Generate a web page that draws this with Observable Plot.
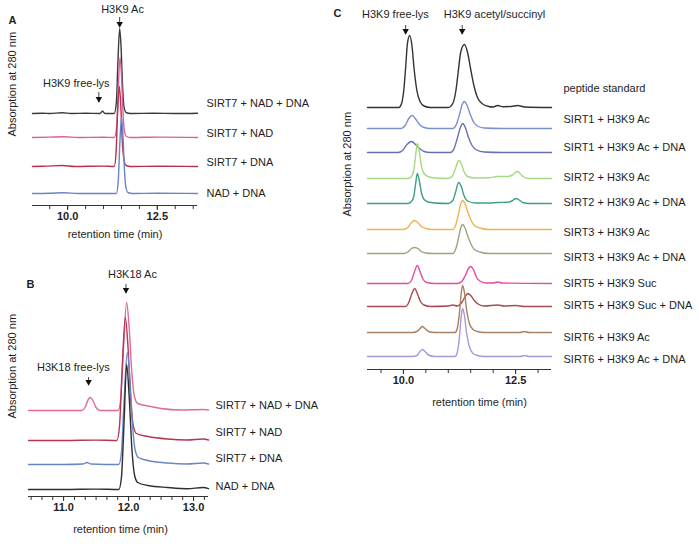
<!DOCTYPE html>
<html><head><meta charset="utf-8">
<script src="https://cdn.jsdelivr.net/npm/d3@7"></script>
<script src="https://cdn.jsdelivr.net/npm/@observablehq/plot@0.6"></script>
<style>
body{margin:0;background:#fff}
#fig{position:relative;width:699px;height:547px;background:#fff;overflow:hidden}
#fig svg{position:absolute;max-width:none}
</style>
</head><body><div id="fig"></div>
<script>
// ---------- Panel A ----------
const seriesA = ["SIRT7 + NAD + DNA", "SIRT7 + NAD", "SIRT7 + DNA", "NAD + DNA"];
const offsetsA = [80, 56, 27, 0];
const labelLevelA = [90, 60, 31, 0];
const colorsA = ["#3a3a3a", "#d8609c", "#b8304c", "#6a84c8"];
const tracesA = [
  [[9.02,0],[9.3,0.3],[9.5,0],[9.85,0.8],[10.1,0],[10.5,0.3],[10.9,0],[10.97,2.2],[11.04,0],[11.3,0],[11.36,12],[11.4,50],[11.45,85],[11.49,66],[11.53,28],[11.57,7],[11.63,1],[11.75,0],[12.4,0.3],[13.0,0],[13.62,0.3]],
  [[9.02,0],[9.5,0.4],[9.9,0.8],[10.3,0],[11.0,0.3],[11.3,0],[11.37,12],[11.41,48],[11.46,80],[11.5,62],[11.54,27],[11.58,7],[11.64,1],[11.75,0],[12.6,0.4],[13.62,0]],
  [[9.02,0],[9.4,0.4],[9.85,1],[10.2,0],[11.0,0.4],[11.3,0],[11.35,14],[11.39,52],[11.44,80],[11.48,62],[11.52,27],[11.57,7],[11.63,1],[11.75,0],[12.5,0.3],[13.62,0]],
  [[9.02,0],[9.5,0.3],[9.9,0.8],[10.3,0],[11.36,0],[11.41,12],[11.45,46],[11.5,76],[11.54,60],[11.58,26],[11.62,7],[11.68,1],[11.8,0],[12.5,0.3],[13.62,0]]
];
const minorTicksA = [9.5, 10, 10.5, 11, 11.5, 12, 12.5, 13, 13.5];
const majorTicksA = [10, 12.5];
const annosA = [
  {text: "H3K9 Ac", tx: 11.53, ty: 184, ax: 11.45, ay1: 176, ay2: 166},
  {text: "H3K9 free-lys", tx: 10.24, ty: 110, ax: 10.87, ay1: 101, ay2: 91}
];

// ---------- Panel B ----------
const seriesB = ["SIRT7 + NAD + DNA", "SIRT7 + NAD", "SIRT7 + DNA", "NAD + DNA"];
const offsetsB = [79, 49, 25, 0];
const labelLevelB = [84, 57, 31, 3];
const colorsB = ["#e06aa0", "#b83450", "#6a86c6", "#2f2f2f"];
const tracesB = [
  [[10.46,0],[11.0,0],[11.28,0],[11.33,3],[11.38,11],[11.41,13],[11.45,10],[11.5,3],[11.56,0],[11.84,0],[11.88,12],[11.92,60],[11.97,108],[12.01,82],[12.05,38],[12.09,14],[12.14,7],[12.3,4.5],[12.5,2],[12.8,0.5],[13.15,1],[13.23,0.5]],
  [[10.46,0],[11.0,0],[11.5,0.4],[11.82,0],[11.86,14],[11.9,70],[11.95,123],[11.99,95],[12.03,45],[12.07,16],[12.12,7],[12.3,4],[12.6,1.5],[12.9,0.5],[13.15,1.5],[13.23,0.5]],
  [[10.46,0],[11.0,0],[11.3,0.5],[11.36,2],[11.42,0.5],[11.85,0],[11.89,12],[11.93,62],[11.98,112],[12.02,86],[12.06,40],[12.1,15],[12.15,7],[12.3,4],[12.6,1.5],[12.9,0.5],[13.15,1.5],[13.23,0.5]],
  [[10.46,0],[11.0,0],[11.5,0.4],[11.85,0],[11.89,12],[11.93,66],[11.97,125],[12.01,92],[12.05,42],[12.09,15],[12.14,7],[12.3,4],[12.6,2],[12.9,0.8],[13.15,2],[13.23,0.8]]
];
const minorTicksB = [10.5, 10.667, 10.833, 11, 11.167, 11.333, 11.5, 11.667, 11.833, 12, 12.167, 12.333, 12.5, 12.667, 12.833, 13, 13.167];
const majorTicksB = [11, 12, 13];
const annosB = [
  {text: "H3K18 Ac", tx: 12.06, ty: 215, ax: 11.96, ay1: 205, ay2: 196},
  {text: "H3K18 free-lys", tx: 11.15, ty: 122, ax: 11.385, ay1: 112, ay2: 104}
];

// ---------- Panel C ----------
const seriesC = ["peptide standard", "SIRT1 + H3K9 Ac", "SIRT1 + H3K9 Ac + DNA", "SIRT2 + H3K9 Ac", "SIRT2 + H3K9 Ac + DNA", "SIRT3 + H3K9 Ac", "SIRT3 + H3K9 Ac + DNA", "SIRT5 + H3K9 Suc", "SIRT5 + H3K9 Suc + DNA", "SIRT6 + H3K9 Ac", "SIRT6 + H3K9 Ac + DNA"];
const offsetsC = [249, 228, 204, 178, 153, 127, 103, 73, 50, 24, 0];
const labelLevelC = [268, 237, 209, 179, 154, 124, 99, 73, 51, 19, -3];
const colorsC = ["#333333", "#7a8ed2", "#6870b4", "#a6d884", "#3ea07c", "#f2b24e", "#a0a27e", "#e84a9c", "#a84a52", "#a8805e", "#a898d6"];
const tracesC = [
  [[9.2,0],[9.6,0],[9.9,0],[9.96,4],[10.01,18],[10.05,40],[10.09,64],[10.14,72],[10.19,62],[10.24,38],[10.3,17],[10.37,6],[10.46,1.5],[10.6,0],[11.0,0],[11.1,4],[11.17,17],[11.22,35],[11.28,56],[11.36,63],[11.43,55],[11.5,38],[11.57,22],[11.65,10],[11.75,4],[11.9,1],[12.0,0.5],[12.1,2],[12.22,0.8],[12.4,1],[12.55,2],[12.7,0.5],[13.3,0]],
  [[9.2,0],[9.95,0],[10.04,3],[10.12,10],[10.2,13],[10.28,9],[10.36,4],[10.46,1],[10.6,0],[11.1,0],[11.18,4],[11.25,14],[11.31,24],[11.36,27],[11.42,23],[11.49,14],[11.57,6],[11.67,2],[11.8,0.5],[12.2,0],[13.3,0]],
  [[9.2,0],[9.88,0],[9.98,2],[10.08,8],[10.18,11],[10.27,8],[10.36,4],[10.46,1],[10.6,0],[11.05,0],[11.13,4],[11.2,14],[11.27,25],[11.32,29],[11.38,25],[11.45,15],[11.53,7],[11.63,2.5],[11.8,0.5],[12.2,0],[13.3,0]],
  [[9.2,0],[10.1,0],[10.18,2],[10.23,8],[10.27,22],[10.31,35],[10.35,28],[10.4,13],[10.46,5],[10.55,2],[10.7,0.5],[11.0,0],[11.1,3],[11.16,10],[11.23,18],[11.29,15],[11.35,7],[11.43,2],[11.6,0.5],[11.9,0.8],[12.1,2],[12.3,2],[12.42,3],[12.49,6],[12.54,7],[12.6,5],[12.68,1.5],[12.8,0],[13.3,0]],
  [[9.2,0],[10.1,0],[10.18,2],[10.23,7],[10.27,19],[10.31,30],[10.35,24],[10.4,11],[10.46,4],[10.55,1.5],[10.7,0.5],[11.0,0],[11.1,3],[11.16,11],[11.23,21],[11.29,17],[11.35,8],[11.43,2.5],[11.6,0.5],[11.9,0.5],[12.1,1],[12.3,1.2],[12.42,2.5],[12.48,4.5],[12.52,5],[12.58,3.5],[12.66,1],[12.8,0],[13.3,0]],
  [[9.2,0],[10.0,0],[10.1,2],[10.18,7],[10.25,9],[10.32,7],[10.4,3],[10.5,1],[10.65,0],[11.1,0],[11.17,5],[11.23,16],[11.28,26],[11.32,29],[11.37,26],[11.43,18],[11.5,10],[11.58,4],[11.7,1.5],[11.9,0],[13.3,0]],
  [[9.2,0],[10.0,0],[10.1,1.5],[10.18,5],[10.25,6],[10.32,5],[10.4,2],[10.5,0.5],[10.65,0],[11.1,0],[11.17,5],[11.23,16],[11.28,26],[11.32,29],[11.37,26],[11.43,18],[11.5,10],[11.58,4],[11.7,1.5],[11.9,0],[13.3,0]],
  [[9.2,0],[10.1,0],[10.18,3],[10.24,11],[10.31,18],[10.37,12],[10.44,4],[10.52,1],[10.7,0],[11.2,0],[11.3,2],[11.38,8],[11.45,15],[11.5,17],[11.56,14],[11.63,6],[11.72,2],[11.85,0.5],[12.0,0.5],[12.1,1.5],[12.2,0.5],[13.3,0]],
  [[9.2,0],[10.05,0],[10.12,4],[10.19,13],[10.25,18],[10.31,13],[10.38,5],[10.46,1.5],[10.6,0],[11.0,0.5],[11.1,1.5],[11.2,0.5],[11.3,4],[11.38,10],[11.43,13],[11.5,11],[11.58,6],[11.68,2],[11.8,0.5],[12.1,1.5],[12.25,0.5],[12.5,1],[12.7,0],[13.3,0]],
  [[9.2,0],[10.2,0],[10.3,1],[10.37,4],[10.42,6],[10.48,4],[10.56,1],[10.7,0],[11.15,0],[11.2,4],[11.25,20],[11.29,40],[11.32,47],[11.36,40],[11.41,22],[11.47,9],[11.55,3],[11.65,1],[11.8,0],[12.6,0],[12.7,1],[12.8,0],[13.3,0]],
  [[9.2,0],[10.2,0],[10.3,1],[10.37,5],[10.42,7],[10.48,5],[10.56,1.5],[10.7,0],[11.15,0],[11.2,4],[11.25,20],[11.29,41],[11.32,48],[11.36,41],[11.41,23],[11.47,10],[11.55,3],[11.65,1],[11.8,0],[12.6,0],[12.7,1],[12.8,0],[13.3,0]]
];
const minorTicksC = [9.5, 10, 10.5, 11, 11.5, 12, 12.5, 13];
const majorTicksC = [10, 12.5];
const annosC = [
  {text: "H3K9 free-lys", tx: 9.82, ty: 342, ax: 10.05, ay1: 331, ay2: 322},
  {text: "H3K9 acetyl/succinyl", tx: 12.03, ty: 342, ax: 11.31, ay1: 331, ay2: 322}
];

const yTitle = "Absorption at 280 nm";
const xTitle = "retention time (min)";
const FONT = "'Liberation Sans', Arial, Helvetica, sans-serif";
const INK = "#1e1e1e";

function panel(c) {
  const marks = [
    Plot.ruleY([c.yDomain[0]], {stroke: "#333", strokeWidth: 1.1}),
    Plot.axisX(c.minor, {tickSize: 4, tickFormat: () => "", stroke: "#333"}),
    Plot.axisX(c.major, {tickSize: 5, tickPadding: 2, tickFormat: d3.format(".1f"), fontWeight: "bold", fontSize: 11, fill: INK, stroke: "#333", label: null}),
    ...c.series.map((s, i) => Plot.line(c.traces[i], {
      x: d => d[0], y: d => d[1] + c.offsets[i],
      stroke: c.colors[i], strokeWidth: 1.4, curve: "monotone-x"
    })),
    Plot.text(c.series, {frameAnchor: "right", y: (d, i) => c.levels[i], text: d => d, dx: c.labelDx, textAnchor: "start", fontSize: 11, fill: INK}),
    Plot.ruleX(c.annos, {x: "ax", y1: "ay1", y2: "ay2", stroke: "#111", strokeWidth: 0.8}),
    Plot.dot(c.annos, {x: "ax", y: "ay2", symbol: "triangle", rotate: 180, r: 2.4, fill: "#111", stroke: null, dy: -3.6}),
    Plot.text(c.annos, {x: "tx", y: "ty", text: "text", fontSize: 11, fill: INK}),
    Plot.text([yTitle], {frameAnchor: "left", y: () => c.yTitleY, dx: c.yTitleDx, rotate: -90, fontSize: 11, fill: INK}),
    Plot.text([xTitle], {frameAnchor: "bottom", dx: c.xTitleDx, dy: c.xTitleDy, fontSize: 11, fill: INK}),
    Plot.text([c.letter], {frameAnchor: "top-left", dx: c.letterDx, dy: c.letterDy, textAnchor: "middle", fontWeight: "bold", fontSize: 11, fill: INK})
  ];
  const svg = Plot.plot({
    width: c.width, height: c.height,
    marginLeft: c.marginLeft, marginRight: c.marginRight, marginTop: 0, marginBottom: c.marginBottom,
    x: {domain: c.domain, axis: null},
    y: {domain: c.yDomain, axis: null},
    style: {fontFamily: FONT, fontSize: "11px", background: "transparent", overflow: "visible", color: INK},
    marks
  });
  svg.style.left = c.left + "px";
  svg.style.top = c.top + "px";
  document.getElementById("fig").appendChild(svg);
}

panel({
  series: seriesA, offsets: offsetsA, levels: labelLevelA, colors: colorsA, traces: tracesA,
  minor: minorTicksA, major: majorTicksA, annos: annosA,
  domain: [9.02, 13.62], yDomain: [-12, 193],
  left: 0, top: 0, width: 330, height: 250, marginLeft: 32, marginRight: 133, marginBottom: 45,
  labelDx: 9, yTitleY: 57, yTitleDx: -20, xTitleDx: 0, xTitleDy: 32,
  letter: "A", letterDx: -20, letterDy: 16
});
panel({
  series: seriesB, offsets: offsetsB, levels: labelLevelB, colors: colorsB, traces: tracesB,
  minor: minorTicksB, major: majorTicksB, annos: annosB,
  domain: [10.46, 13.23], yDomain: [-7, 239],
  left: 0, top: 250, width: 330, height: 297, marginLeft: 28, marginRight: 122, marginBottom: 51,
  labelDx: 7, yTitleY: 71, yTitleDx: -16, xTitleDx: 2, xTitleDy: 36,
  letter: "B", letterDx: 2, letterDy: 30
});
panel({
  series: seriesC, offsets: offsetsC, levels: labelLevelC, colors: colorsC, traces: tracesC,
  minor: minorTicksC, major: majorTicksC, annos: annosC,
  domain: [9.2, 13.3], yDomain: [-13, 356],
  left: 330, top: 0, width: 369, height: 420, marginLeft: 37, marginRight: 148, marginBottom: 51,
  labelDx: 12, yTitleY: 140, yTitleDx: -20, xTitleDx: 20, xTitleDy: 36,
  letter: "C", letterDx: -30, letterDy: 9
});
</script>
</body></html>
